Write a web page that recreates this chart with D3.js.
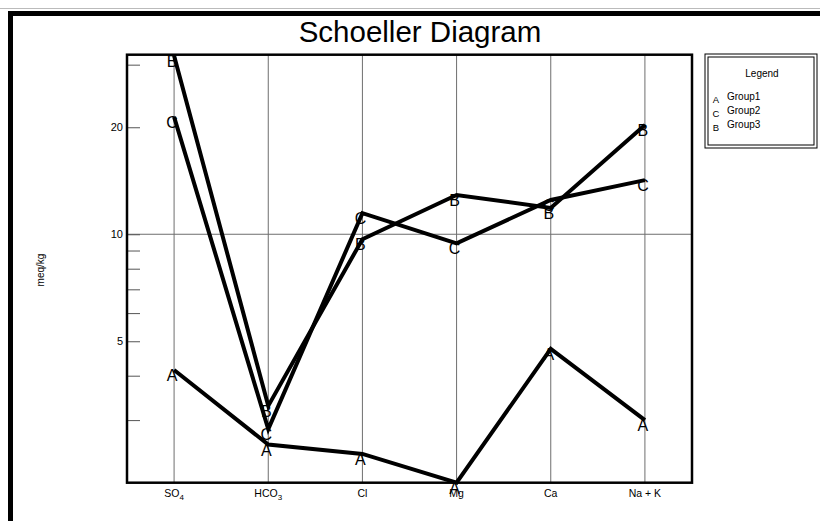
<!DOCTYPE html>
<html>
<head>
<meta charset="utf-8">
<script src="https://cdn.jsdelivr.net/npm/d3@7/dist/d3.min.js"></script>
<style>
  html, body { margin: 0; padding: 0; background: #fff; }
  svg { display: block; font-family: "Liberation Sans", Arial, sans-serif; }
</style>
</head>
<body>
<svg id="chart" width="820" height="521"></svg>
<script>
// Ions along the horizontal axis (label text, subscript part)
const ions = [
  ["SO", "4"], ["HCO", "3"], ["Cl", ""], ["Mg", ""], ["Ca", ""], ["Na + K", ""]
];
const ionKeys = ["SO4", "HCO3", "Cl", "Mg", "Ca", "Na+K"];

// Concentrations in meq/kg for each group
const group1 = [4.15, 2.56, 2.41, 2.0, 4.76, 3.0];
const group2 = [21.4, 2.83, 11.46, 9.43, 12.49, 14.2];
const group3 = [31.8, 3.29, 9.68, 12.9, 11.86, 20.3];

const seriesNames = ["Group1", "Group2", "Group3"];
const seriesMarks = ["A", "C", "B"];
const seriesValues = [group1, group2, group3];

// Log axis ticks: labelled and unlabelled
const yDomain = [2, 32];
const labelledTicks = [5, 10, 20];
const minorTicks = [3, 4, 6, 7, 8, 9, 30];

const svg = d3.select("#chart");

// Outer frame (top and left edges)
svg.append("line").attr("x1", 0).attr("x2", 820).attr("y1", 8.5).attr("y2", 8.5)
  .attr("stroke", "#bbb").attr("stroke-width", 1);
svg.append("rect").attr("x", 8).attr("y", 11).attr("width", 812).attr("height", 5).attr("fill", "#000");
svg.append("rect").attr("x", 8).attr("y", 11).attr("width", 5).attr("height", 510).attr("fill", "#000");

const plot = { left: 127, right: 692, top: 54.7, bottom: 482.7 };

const x = d3.scalePoint().domain(ionKeys).range([plot.left, plot.right]).padding(0.5);
const y = d3.scaleLog().domain(yDomain).range([plot.bottom, plot.top]);

// Title
svg.append("text").attr("x", 420).attr("y", 42).attr("text-anchor", "middle")
  .attr("font-size", 29.5).attr("fill", "#000").text("Schoeller Diagram");

// Vertical grid lines at each ion
svg.append("g").selectAll("line").data(ionKeys).join("line")
  .attr("x1", d => x(d)).attr("x2", d => x(d))
  .attr("y1", plot.top).attr("y2", plot.bottom)
  .attr("stroke", "#6e6e6e").attr("stroke-width", 1);

// Horizontal grid line at 10
svg.append("line").attr("x1", plot.left).attr("x2", plot.right)
  .attr("y1", y(10)).attr("y2", y(10)).attr("stroke", "#6e6e6e").attr("stroke-width", 1);

// Y axis ticks drawn inward, labels only at labelled values
const yAxis = d3.axisRight(y).tickValues(labelledTicks.concat(minorTicks))
  .tickSize(13).tickFormat("");
const yg = svg.append("g").attr("transform", `translate(${plot.left},0)`).call(yAxis);
yg.select(".domain").remove();
yg.selectAll(".tick line").attr("stroke", "#555").attr("stroke-width", 1);

svg.append("g").selectAll("text").data(labelledTicks).join("text")
  .attr("x", plot.left - 4).attr("y", d => y(d) + 4)
  .attr("text-anchor", "end").attr("font-size", 11).attr("fill", "#000")
  .text(d => d);

// Y axis title
svg.append("text").attr("transform", "translate(44,270) rotate(-90)")
  .attr("text-anchor", "middle").attr("font-size", 10).attr("fill", "#000").text("meq/kg");

// X labels with subscripts
const xl = svg.append("g").selectAll("text").data(ions).join("text")
  .attr("x", (d, i) => x(ionKeys[i])).attr("y", 497)
  .attr("text-anchor", "middle").attr("font-size", 10.5).attr("fill", "#000");
xl.append("tspan").text(d => d[0]);
xl.filter(d => d[1]).append("tspan").attr("font-size", 8).attr("dy", 3).text(d => d[1]);

// Plot frame
svg.append("rect").attr("x", plot.left).attr("y", plot.top)
  .attr("width", plot.right - plot.left).attr("height", plot.bottom - plot.top)
  .attr("fill", "none").attr("stroke", "#000").attr("stroke-width", 2.5);

// Series lines
const line = d3.line().x((d, i) => x(ionKeys[i])).y(d => y(d));
svg.append("g").selectAll("path").data(seriesValues).join("path")
  .attr("d", line).attr("fill", "none").attr("stroke", "#000")
  .attr("stroke-width", 4).attr("stroke-linejoin", "miter");

// Letter markers at each point
seriesValues.forEach((vals, s) => {
  svg.append("g").selectAll("text").data(vals).join("text")
    .attr("x", (d, i) => x(ionKeys[i]) - 2).attr("y", d => y(d) + 11)
    .attr("text-anchor", "middle").attr("font-size", 16).attr("fill", "#000")
    .text(seriesMarks[s]);
});

// Legend
const lg = svg.append("g");
lg.append("rect").attr("x", 705).attr("y", 54).attr("width", 112).attr("height", 94)
  .attr("fill", "#fff").attr("stroke", "#000").attr("stroke-width", 1);
lg.append("rect").attr("x", 708).attr("y", 57).attr("width", 106).attr("height", 88)
  .attr("fill", "none").attr("stroke", "#000").attr("stroke-width", 1);
lg.append("text").attr("x", 762).attr("y", 77).attr("text-anchor", "middle")
  .attr("font-size", 10).attr("fill", "#000").text("Legend");
seriesNames.forEach((name, i) => {
  lg.append("text").attr("x", 716).attr("y", 103 + i * 14).attr("text-anchor", "middle")
    .attr("font-size", 9.5).attr("fill", "#000").text(seriesMarks[i]);
  lg.append("text").attr("x", 727).attr("y", 100 + i * 14)
    .attr("font-size", 10).attr("fill", "#000").text(name);
});
</script>
</body>
</html>
